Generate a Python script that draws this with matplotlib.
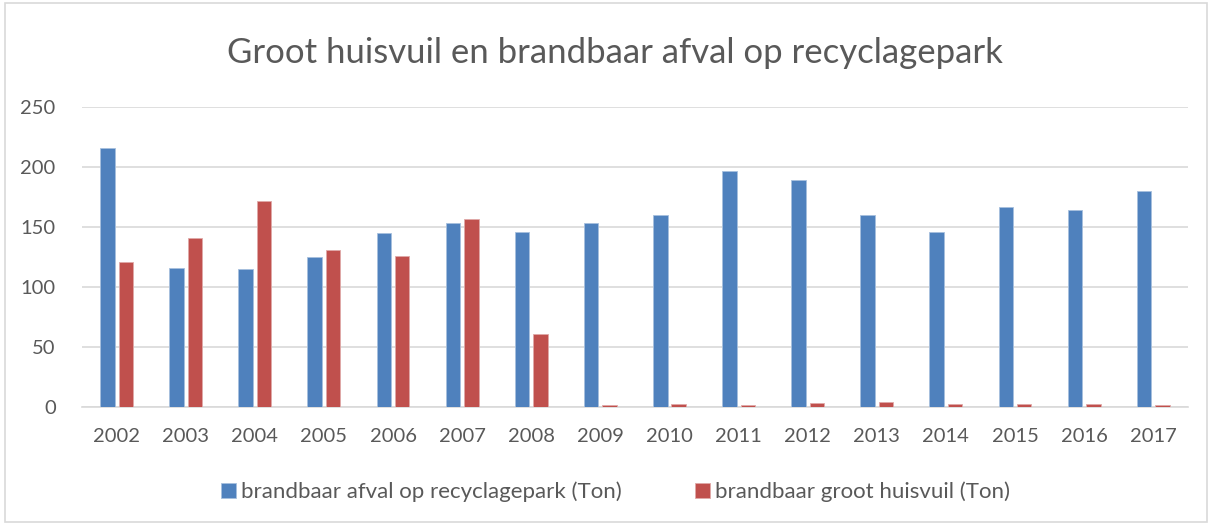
import numpy as np
import matplotlib.pyplot as plt
from matplotlib.patches import Rectangle

plt.rcParams['font.family'] = ['Lato', 'DejaVu Sans']

years = ['2002', '2003', '2004', '2005', '2006', '2007', '2008', '2009',
         '2010', '2011', '2012', '2013', '2014', '2015', '2016', '2017']
afval_recyclagepark = [216, 116, 115, 125, 145, 153, 146, 153,
                       160, 197, 189, 160, 146, 167, 164, 180]
groot_huisvuil = [121, 141, 172, 131, 126, 157, 61, 1.7,
                  2.2, 1.4, 3.1, 3.9, 2.2, 2.2, 2.5, 1.7]

blue = '#4f81bd'
red = '#c0504d'
txt = '#595959'
grid = '#d9d9d9'

fig = plt.figure(figsize=(12.12, 5.24), dpi=100)
ax = fig.add_axes([0.0677, 0.2233, 0.9123, 0.5725])

x = np.arange(len(years))
w = 0.21
ax.bar(x - 0.133, afval_recyclagepark, w, color=blue, edgecolor='#a7c0de', linewidth=0.6,
       label='brandbaar afval op recyclagepark (Ton)', zorder=3)
ax.bar(x + 0.133, groot_huisvuil, w, color=red, edgecolor='#e0a9a8', linewidth=0.6,
       label='brandbaar groot huisvuil (Ton)', zorder=3)

ax.set_xlim(-0.5, len(years) - 0.5)
ax.set_ylim(0, 250)
ax.set_yticks(range(0, 251, 50))
ax.set_xticks(x)
ax.set_xticklabels(years)
ax.tick_params(axis='both', length=0, labelsize=14.5, colors=txt)
ax.tick_params(axis='x', pad=15)
ax.tick_params(axis='y', pad=19)
ax.yaxis.grid(True, color=grid, linewidth=1.2, zorder=0)
for s in ['top', 'right', 'left']:
    ax.spines[s].set_visible(False)
ax.spines['bottom'].set_color(grid)
ax.spines['bottom'].set_linewidth(1.2)

fig.text(0.507, 0.898, 'Groot huisvuil en brandbaar afval op recyclagepark',
         ha='center', va='center', fontsize=25, color=txt)

fig.legend(loc='center', bbox_to_anchor=(0.508, 0.061), ncol=2, frameon=False,
           fontsize=16, labelcolor=txt, handlelength=0.65, handleheight=0.65,
           handletextpad=0.25, columnspacing=3.3)

fig.patches.append(Rectangle((0.004, 0.004), 0.992, 0.99, transform=fig.transFigure,
                             fill=False, edgecolor=grid, linewidth=1.2))

fig.savefig('out.png', dpi=100)
